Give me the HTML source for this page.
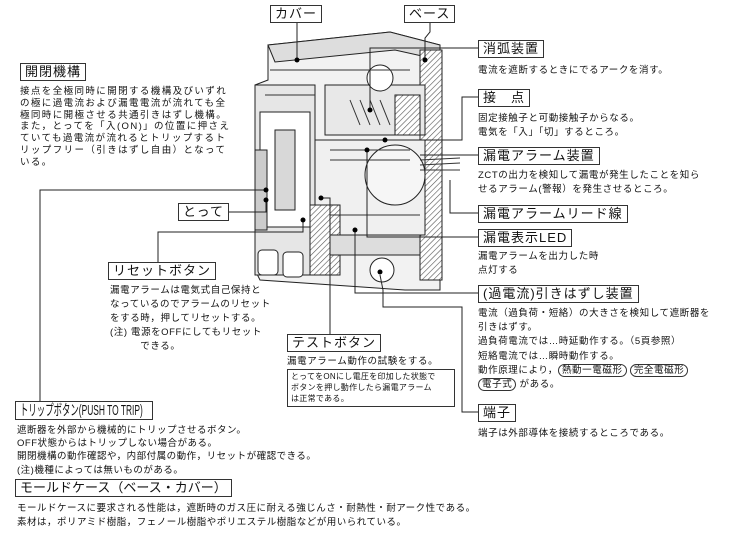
<!DOCTYPE html>
<html><head><meta charset="utf-8"><style>
body{margin:0;width:749px;height:540px;background:#fff;position:relative;overflow:hidden;font-family:"Liberation Sans","Noto Sans CJK JP",sans-serif;color:#111}
.b{position:absolute;border:1px solid #333;background:#fff;font-size:13px;line-height:16px;padding:0 4px;white-space:nowrap;letter-spacing:1px}
.t{position:absolute;font-size:9.5px;line-height:13.5px;white-space:nowrap;letter-spacing:.6px}
.r{border:1px solid #333;border-radius:9px;padding:0 3px}
</style></head><body>
<svg width="749" height="540" style="position:absolute;left:0;top:0">
<defs><pattern id="h" width="4" height="4" patternUnits="userSpaceOnUse" patternTransform="rotate(45)"><rect width="4" height="4" fill="#fff"/><line x1="0" y1="0" x2="0" y2="4" stroke="#555" stroke-width="1.2"/></pattern></defs>
<g stroke="#222" stroke-width="1" fill="#fff">
<polygon points="268,45 390,32 440,45 440,290 405,290 260,280 255,270 255,85 268,80" fill="#f2f2f2"/>
<polygon points="268,45 390,32 440,45 440,60 395,50 275,62" fill="#ddd"/>
<rect x="420" y="50" width="22" height="230" fill="url(#h)"/>
<rect x="325" y="85" width="100" height="50" fill="#e8e8e8"/>
<rect x="255" y="85" width="60" height="190" fill="#e6e6e6"/>
<rect x="260" y="112" width="50" height="115" fill="#fff"/>
<rect x="275" y="130" width="20" height="80" fill="#d8d8d8"/>
<rect x="255" y="150" width="12" height="80" fill="#ccc"/>
<rect x="315" y="140" width="110" height="95" fill="#f0f0f0"/>
<circle cx="395" cy="175" r="30" fill="#f6f6f6"/>
<rect x="310" y="205" width="30" height="70" fill="url(#h)"/>
<rect x="330" y="235" width="90" height="20" fill="#ddd"/>
<rect x="395" y="95" width="25" height="40" fill="url(#h)"/>
<circle cx="380" cy="78" r="13"/><circle cx="382" cy="270" r="12"/>
<path d="M350,100 l10,25 M360,100 l10,25 M370,100 l10,25 M380,100 l10,25 M330,150 h80 M330,160 h80 M330,215 h90 M265,95 h50 M270,70 h140" stroke="#333"/>
<path d="M420,160 L460,158 M420,165 L460,163 M420,170 L460,170" stroke="#333"/>
<rect x="258" y="250" width="20" height="25" rx="4"/><rect x="283" y="252" width="20" height="25" rx="4"/>
</g>
<g stroke="#222" stroke-width="1" fill="none">
<polyline points="297,22 297,60"/><polyline points="430,22 430,32 425,38 425,60"/>
<polyline points="478,48 370,48 370,110"/>
<polyline points="478,97 462,97 462,140 385,140"/>
<polyline points="478,155 420,155"/>
<polyline points="478,213 450,213 450,180"/>
<polyline points="478,237 367,237 367,150"/>
<polyline points="478,293 355,293 355,230"/>
<polyline points="478,412 462,412 462,307 383,307 383,290 380,275"/>
<polyline points="40,401 40,190 266,190"/>
<polyline points="228,212 266,212 266,200"/>
<polyline points="158,262 158,232 303,232 303,220"/>
<polyline points="330,334 330,198 321,198"/>
</g>
<g fill="#000"><circle cx="297" cy="60" r="2.5"/><circle cx="425" cy="60" r="2.5"/><circle cx="370" cy="110" r="2.5"/><circle cx="385" cy="140" r="2.5"/><circle cx="367" cy="150" r="2.5"/><circle cx="355" cy="230" r="2.5"/><circle cx="380" cy="272" r="2.5"/><circle cx="266" cy="190" r="2.5"/><circle cx="266" cy="200" r="2.5"/><circle cx="303" cy="220" r="2.5"/><circle cx="321" cy="198" r="2.5"/></g>
</svg>
<div class="b" style="left:270px;top:5px">カバー</div>
<div class="b" style="left:404px;top:5px">ベース</div>
<div class="b" style="left:20px;top:63px">開閉機構</div>
<div class="t" style="left:20px;top:86px;line-height:11.8px;letter-spacing:1.4px">接点を全極同時に開閉する機構及びいずれ<br>の極に過電流および漏電電流が流れても全<br>極同時に開極させる共通引きはずし機構。<br>また，とってを「入(ON)」の位置に押さえ<br>ていても過電流が流れるとトリップするト<br>リップフリー（引きはずし自由）となって<br>いる。</div>
<div class="b" style="left:478px;top:40px">消弧装置</div>
<div class="t" style="left:478px;top:64px">電流を遮断するときにでるアークを消す。</div>
<div class="b" style="left:478px;top:89px">接　点</div>
<div class="t" style="left:478px;top:112px">固定接触子と可動接触子からなる。<br>電気を「入」「切」するところ。</div>
<div class="b" style="left:478px;top:147px">漏電アラーム装置</div>
<div class="t" style="left:478px;top:169px">ZCTの出力を検知して漏電が発生したことを知ら<br>せるアラーム(警報）を発生させるところ。</div>
<div class="b" style="left:478px;top:205px">漏電アラームリード線</div>
<div class="b" style="left:478px;top:229px">漏電表示LED</div>
<div class="t" style="left:478px;top:250px">漏電アラームを出力した時<br>点灯する</div>
<div class="b" style="left:478px;top:285px">(過電流)引きはずし装置</div>
<div class="t" style="left:478px;top:307px;line-height:14.2px">電流（過負荷・短絡）の大きさを検知して遮断器を<br>引きはずす。<br>過負荷電流では…時延動作する。（5頁参照）<br>短絡電流では…瞬時動作する。<br>動作原理により，<span class="r">熱動一電磁形</span> <span class="r">完全電磁形</span><br><span class="r">電子式</span> がある。</div>
<div class="b" style="left:478px;top:404px">端子</div>
<div class="t" style="left:478px;top:427px">端子は外部導体を接続するところである。</div>
<div class="b" style="left:178px;top:203px">とって</div>
<div class="b" style="left:108px;top:262px">リセットボタン</div>
<div class="t" style="left:110px;top:284px;line-height:14px">漏電アラームは電気式自己保持と<br>なっているのでアラームのリセット<br>をする時，押してリセットする。<br>(注) 電源をOFFにしてもリセット<br>　　　できる。</div>
<div class="b" style="left:287px;top:334px">テストボタン</div>
<div class="t" style="left:287px;top:355px">漏電アラーム動作の試験をする。</div>
<div class="t" style="left:287px;top:369px;width:160px;height:34px;border:1px solid #333;padding:1px 3px;font-size:8px;line-height:11px;letter-spacing:.3px">とってをONにし電圧を印加した状態で<br>ボタンを押し動作したら漏電アラーム<br>は正常である。</div>
<div class="b" style="left:15px;top:401px;width:128px;height:17px;letter-spacing:0;font-size:15px;line-height:17px"><span style="display:inline-block;transform:scaleX(0.56);transform-origin:left top">トリップボタン(PUSH TO TRIP)</span></div>
<div class="t" style="left:17px;top:424px;line-height:13.2px;letter-spacing:.5px">遮断器を外部から機械的にトリップさせるボタン。<br>OFF状態からはトリップしない場合がある。<br>開閉機構の動作確認や，内部付属の動作，リセットが確認できる。<br>(注)機種によっては無いものがある。</div>
<div class="b" style="left:15px;top:479px;letter-spacing:0">モールドケース（ベース・カバー）</div>
<div class="t" style="left:17px;top:502px;line-height:14px;letter-spacing:.5px">モールドケースに要求される性能は，遮断時のガス圧に耐える強じんさ・耐熱性・耐アーク性である。<br>素材は，ポリアミド樹脂，フェノール樹脂やポリエステル樹脂などが用いられている。</div>
</body></html>
